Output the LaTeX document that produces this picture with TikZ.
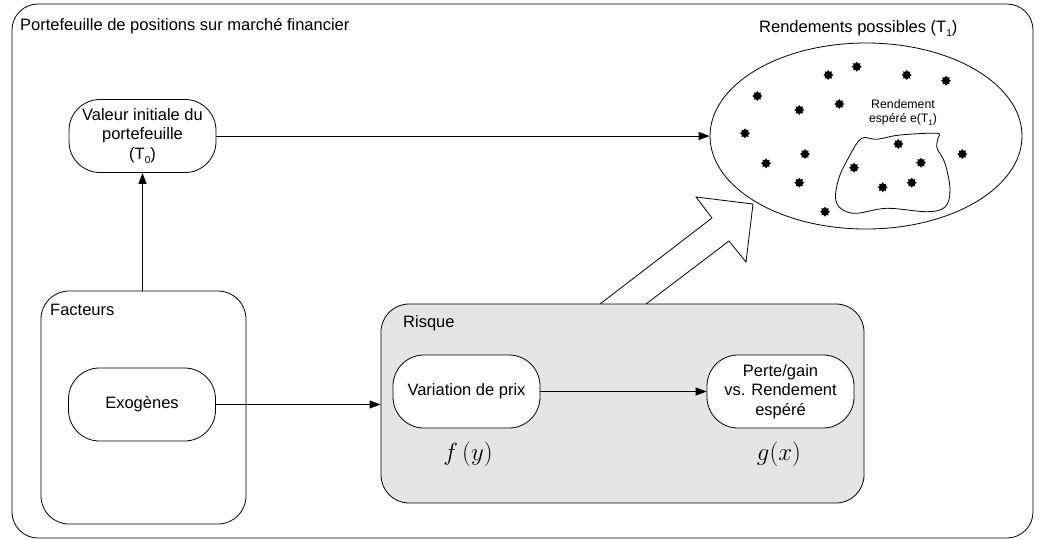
\documentclass[tikz,border=0pt]{standalone}
\usepackage{fontspec}
\setmainfont{Liberation Sans}
\usetikzlibrary{arrows.meta,shapes.geometric,calc}

% lowered subscript, as in T_0 / T_1
\newcommand{\lowidx}[2]{\raisebox{-#2}{\fontsize{10}{10}\selectfont #1}}

\tikzset{
  base/.style={font=\fontsize{16.5}{19.5}\selectfont},
  frame/.style={draw=black, line width=0.8pt, rounded corners=26pt},
  group/.style={draw=black, line width=0.8pt, rounded corners=28pt, inner sep=0pt},
  pill/.style={draw=black, line width=0.8pt, fill=white, rounded corners=31pt,
    minimum width=147pt, minimum height=73pt, align=center, inner sep=0pt, base},
  link/.style={line width=0.8pt, -{Triangle[length=11pt,width=8pt]}},
  label/.style={base, inner sep=0pt},
  dot/.style={star, star points=8, star point ratio=1.45, fill=black,
    minimum size=10pt, inner sep=0pt},
  maths/.style={font=\fontsize{24}{28}\selectfont, inner sep=0pt}
}

\begin{document}
\begin{tikzpicture}[x=1pt,y=-1pt]
  \useasboundingbox (0,0) rectangle (1041,539);

  % outer frame
  \node[frame, minimum width=1021pt, minimum height=534pt, inner sep=0pt]
    (cadre) at (522.5,271) {};
  \node[label, anchor=base west] (titre) at (20,30)
    {Portefeuille de positions sur marché financier};

  % possible returns at T1
  \node[ellipse, draw=black, line width=0.8pt, minimum width=312pt,
    minimum height=186pt, inner sep=0pt] (rend) at (866,136) {};
  \node[label, anchor=base west] (rendt) at (759,32)
    {Rendements possibles (T\lowidx{1}{4pt})};

  % expected-return region
  \draw[line width=0.8pt] plot[smooth cycle, tension=0.6] coordinates {
    (861.7,138.3) (876.7,139.3) (900,135) (936.7,133.3) (938,138)
    (937,148) (945,163.3) (950,190) (945,207) (926.7,211.7)
    (886.7,208.3) (853.3,213.3) (836.7,203.3) (838.3,180) (850,155)};
  \node[font=\fontsize{12.3}{14}\selectfont, align=center, inner sep=0pt]
    (espere) at (903,113)
    {Rendement\\espéré e(T\raisebox{-3pt}{\fontsize{8}{8}\selectfont 1})};

  % scattered outcomes
  \foreach \x/\y [count=\i] in {856.7/66.7, 828.3/75, 906.7/75, 946/80.7,
      757.3/96, 839.3/104, 799.3/110, 745/133.3, 898.3/144, 962.3/154,
      805/154, 766/163.3, 921/162.7, 854/167.7, 799.3/182.7, 882.7/187.3,
      911.7/182.7, 825/211.7}
    \node[dot] (p\i) at (\x,\y) {};

  % initial value
  \node[pill] (valeur) at (142.5,136)
    {Valeur initiale du\\portefeuille\\(T\lowidx{0}{4pt})};

  % factors
  \node[group, minimum width=205pt, minimum height=233pt] (facteurs)
    at (143.5,407.5) {};
  \node[label, anchor=base west] (facteurst) at (50,315) {Facteurs};
  \node[pill] (exo) at (142,404.5) {Exogènes};

  % hollow arrow from the risk box to the returns
  \draw[line width=0.8pt, fill=white]
    (600,304) -- (712,218) -- (696,197) -- (753,204) -- (746,262)
    -- (729,241) -- (646,304);

  % risk
  \node[group, fill=black!10, minimum width=483pt, minimum height=199pt]
    (risque) at (622.5,403.5) {};
  \node[label, anchor=base west] (risquet) at (403,327) {Risque};
  \node[pill] (variation) at (466.5,391.5) {Variation de prix};
  \node[pill] (perte) at (780.5,391.5)
    {Perte/gain\\vs. Rendement\\espéré};
  \node[maths] (fy) at (468,454) {$f\,(y)$};
  \node[maths] (gx) at (779,454) {$g(x)$};

  % connectors
  \draw[link] (facteurs.north -| valeur.south) -- (valeur.south);
  \draw[link] (valeur.east) -- (rend.west);
  \draw[link] (exo.east) -- (exo.east -| risque.west);
  \draw[link] (variation.east) -- (perte.west);
\end{tikzpicture}
\end{document}
